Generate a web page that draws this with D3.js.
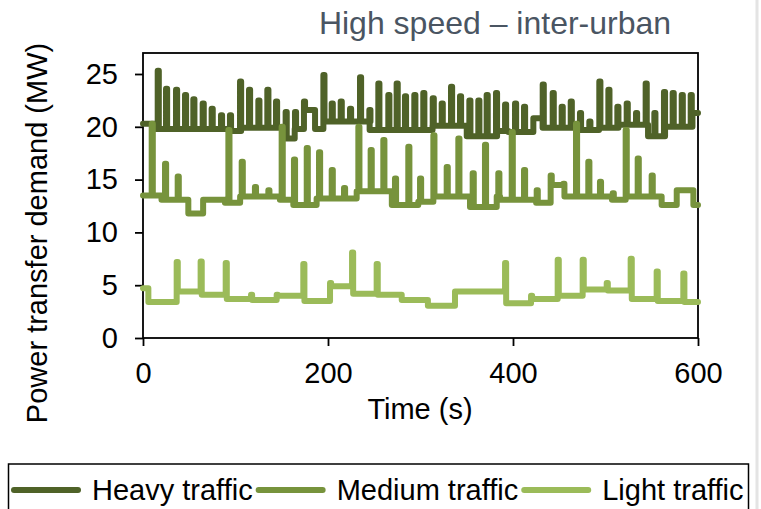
<!DOCTYPE html>
<html>
<head>
<meta charset="utf-8">
<script src="https://cdn.jsdelivr.net/npm/d3@7"></script>
<style>
  body { margin: 0; background: #fff; }
  text { font-family: "Liberation Sans", Arial, sans-serif; }
</style>
</head>
<body>
<svg id="chart" width="761" height="509"></svg>
<script>
// ---- data ----
var seriesNames = ["Heavy traffic", "Medium traffic", "Light traffic"];
var seriesColors = ["#4f6228", "#77933c", "#9bbb59"];
var xTicks = [0, 200, 400, 600];
var yTicks = [0, 5, 10, 15, 20, 25];

// [time (s), base level (MW)] - level holds until next entry
var heavySteps = [[0,20.3],[13,19.8],[94,19.6],[105,19.9],[154,18.9],[164,19.8],[174,21.6],[186,19.8],
  [195,20.5],[245,19.7],[313,20.1],[350,19.1],[382,19.6],[395,19.5],[422,20.8],[432,19.9],
  [473,19.7],[493,19.9],[513,20.2],[546,19.1],[564,20.0],[594,21.3]];
// [time (s), spike peak (MW)]
var heavySpikes = [[15.9,25.3],[24.9,23.6],[35.7,23.5],[45.4,23.0],[54.4,22.6],[64.5,22.2],[74.2,21.7],
  [84.3,21.1],[94,21.1],[104.9,24.3],[114.6,23.5],[124.7,22.5],[134.4,23.5],[143.8,22.4],[154.2,21.4],
  [164.3,21.4],[174,22.4],[195,24.9],[204,22.2],[213.7,22.4],[223.8,21.7],[234.6,24.7],[244.7,21.6],
  [254.4,24.1],[265.2,23.0],[274.2,24.1],[283.2,22.9],[293.3,23.0],[303,23.2],[313.2,22.7],[322.9,22.2],
  [333,23.8],[342.7,22.9],[352.8,22.5],[362.5,22.5],[371.5,23.0],[381.6,23.2],[391.4,22.1],[402.2,22.2],
  [411.9,21.9],[432.1,24.0],[442.9,23.2],[452.6,21.9],[462.4,22.4],[472.4,21.3],[482.5,20.5],
  [493.3,24.3],[503.1,23.5],[512.8,21.9],[522.9,22.2],[533,21.3],[543.4,24.1],[552.8,21.3],[563.2,23.3],
  [572.6,23.2],[582.4,23.0],[592.1,23.0]];

var mediumSteps = [[0,13.5],[20,13.1],[49,11.8],[65,13.1],[88.6,12.8],[105,13.4],[148,13.1],[162.5,12.6],
  [187.7,13.2],[231,13.9],[269,12.6],[297.6,12.9],[313.9,13.4],[353.5,12.4],[382.4,13.4],[386,13.1],
  [425,12.8],[440.7,14.5],[454.4,13.4],[507,13.1],[521.8,13.4],[560.7,12.6],[577,14.0],[595,12.6]];
var mediumSpikes = [[9.4,20.3],[23.8,16.5],[37.5,15.3],[92.3,19.7],[106.7,16.7],[121,14.3],[135.5,14.0],
  [149.9,20.0],[163.2,16.9],[177,18.0],[190.3,17.6],[204,15.9],[217.3,14.2],[232.8,20.0],[246.1,17.8],
  [259.8,18.75],[272.4,15.1],[286.8,18.1],[299.5,15.1],[313.9,19.2],[328.3,16.2],[340.9,18.9],
  [356.4,15.6],[369.7,18.3],[384.1,15.6],[398.6,19.5],[411.9,15.9],[425.6,14.0],[440.7,15.4],
  [454.4,14.6],[468.1,20.3],[481.4,16.7],[494,14.8],[507.8,13.7],[521.8,19.7],[534.8,17.0],
  [549.9,15.4]];

var lightSteps = [[0,4.7],[5.8,3.4],[36.4,4.4],[62.3,4.1],[89.4,3.7],[116.8,3.6],[144.5,4.0],[173.3,3.5],
  [202.2,4.9],[226,4.2],[252.6,4.1],[279.7,3.6],[308,3.06],[337.3,4.4],[391.4,3.3],[419.5,3.7],
  [448.3,4.0],[475.3,4.6],[501.3,4.5],[527.2,3.7],[555.3,3.5],[584.1,3.4]];
var lightSpikes = [[36.4,7.2],[62.3,7.25],[89.4,7.1],[116.8,4.1],[144.5,4.1],[173.3,7.0],[202.2,5.2],
  [226,8.1],[252.6,7.0],[391.4,7.1],[419.5,4.0],[448.3,7.4],[475.3,7.4],[501.3,5.2],[527.2,7.5],
  [555.3,6.3],[584.1,6.1]];

// ---- layout ----
var svg = d3.select("#chart");
var plot = {left: 143, right: 698, top: 53, bottom: 338};

var x = d3.scaleLinear().domain([0, 600]).range([plot.left, plot.right]);
var y = d3.scaleLinear().domain([0, 25]).range([plot.bottom, 74]);

// turn steps + spikes into a polyline
function buildPoints(steps, spikes) {
  var events = {};
  steps.forEach(function(d) { (events[d[0]] = events[d[0]] || {}).step = d[1]; });
  spikes.forEach(function(d) { (events[d[0]] = events[d[0]] || {}).spike = d[1]; });
  var times = Object.keys(events).map(Number).sort(function(a, b) { return a - b; });
  var cur = steps[0][1], pts = [[0, cur]], w = 1.2;
  times.forEach(function(t) {
    if (t === 0) return;
    var e = events[t];
    if (e.spike != null) {
      pts.push([t, cur], [t, e.spike], [t + w, e.spike]);
      if (e.step != null) cur = e.step;
      pts.push([t + w, cur]);
    } else {
      pts.push([t, cur], [t, e.step]);
      cur = e.step;
    }
  });
  pts.push([600, cur]);
  return pts;
}

var series = [
  buildPoints(heavySteps, heavySpikes),
  buildPoints(mediumSteps, mediumSpikes),
  buildPoints(lightSteps, lightSpikes)
];

// faint slide edge on the right
svg.append("line")
  .attr("x1", 757).attr("x2", 757).attr("y1", 0).attr("y2", 509)
  .attr("stroke", "#e4e4e4").attr("stroke-width", 3);

// title
svg.append("text")
  .attr("x", 495).attr("y", 34)
  .attr("text-anchor", "middle")
  .attr("font-size", 32)
  .attr("fill", "#4a5562")
  .text("High speed \u2013 inter-urban");

// axes
var yAxis = svg.append("g")
  .attr("transform", "translate(" + plot.left + ",0)")
  .call(d3.axisLeft(y).tickValues(yTicks).tickSize(8).tickPadding(17));
var xAxis = svg.append("g")
  .attr("transform", "translate(0," + plot.bottom + ")")
  .call(d3.axisBottom(x).tickValues(xTicks).tickSize(8).tickPadding(16));

[xAxis, yAxis].forEach(function(a) {
  a.select(".domain").remove();
  a.selectAll(".tick line").attr("stroke", "#000").attr("stroke-width", 1.8);
  a.selectAll(".tick text")
    .attr("font-family", "Liberation Sans, Arial, sans-serif")
    .attr("font-size", 29).attr("fill", "#000");
});

// plot frame
svg.append("rect")
  .attr("x", plot.left).attr("y", plot.top)
  .attr("width", plot.right - plot.left).attr("height", plot.bottom - plot.top)
  .attr("fill", "none").attr("stroke", "#000").attr("stroke-width", 1.8);

// axis titles
svg.append("text")
  .attr("transform", "translate(47,233)rotate(-90)")
  .attr("text-anchor", "middle")
  .attr("font-size", 29)
  .text("Power transfer demand (MW)");

svg.append("text")
  .attr("x", 420).attr("y", 419)
  .attr("text-anchor", "middle")
  .attr("font-size", 29)
  .text("Time (s)");

// lines
var line = d3.line()
  .x(function(d) { return x(d[0]); })
  .y(function(d) { return y(d[1]); });

svg.append("g").selectAll("path.series")
  .data(series)
  .enter().append("path")
  .attr("class", "series")
  .attr("d", line)
  .attr("fill", "none")
  .attr("stroke", function(d, i) { return seriesColors[i]; })
  .attr("stroke-width", 6)
  .attr("stroke-linejoin", "round")
  .attr("stroke-linecap", "round");

// legend
var legend = svg.append("g");
legend.append("rect")
  .attr("x", 8.5).attr("y", 464)
  .attr("width", 740).attr("height", 60)
  .attr("fill", "#fff").attr("stroke", "#000").attr("stroke-width", 1.5);

var lx = 14;
seriesNames.forEach(function(name, i) {
  legend.append("line")
    .attr("x1", lx).attr("x2", lx + 64)
    .attr("y1", 490).attr("y2", 490)
    .attr("stroke", seriesColors[i])
    .attr("stroke-width", 6)
    .attr("stroke-linecap", "round");
  var t = legend.append("text")
    .attr("x", lx + 78).attr("y", 500)
    .attr("font-size", 29)
    .text(name);
  lx = lx + 78 + t.node().getComputedTextLength() + 6;
});
</script>
</body>
</html>
